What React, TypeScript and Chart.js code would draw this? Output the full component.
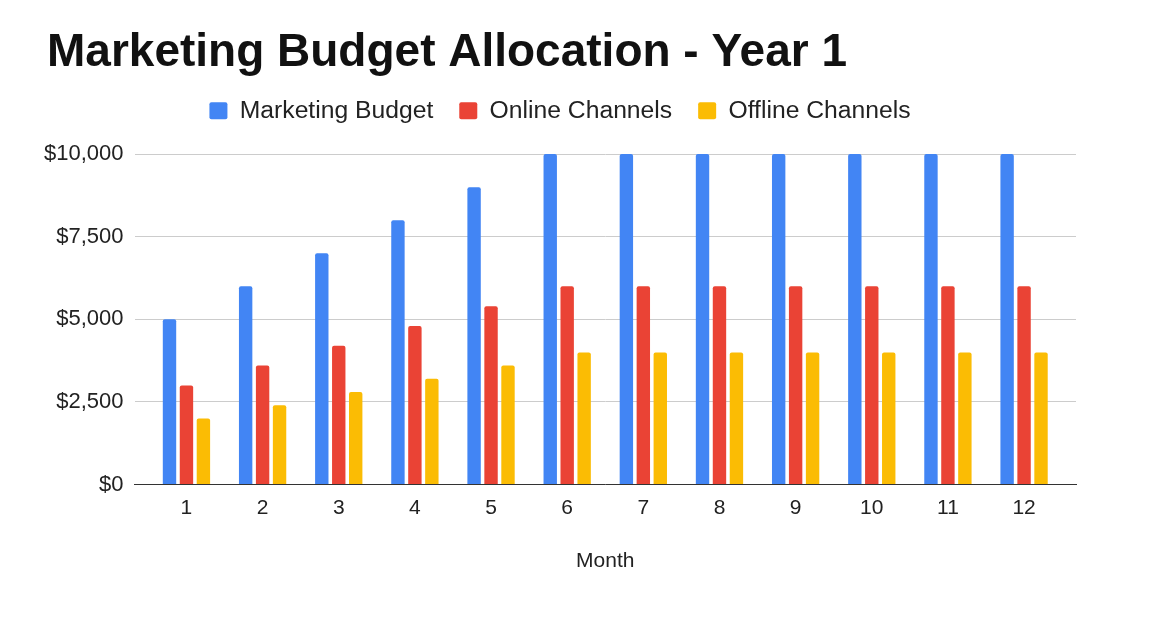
import React, { useEffect, useRef } from "react";
import { Chart, registerables } from "chart.js";

Chart.register(...registerables);

const chartTitle = "Marketing Budget Allocation - Year 1";
const xAxisTitle = "Month";
const months = [1, 2, 3, 4, 5, 6, 7, 8, 9, 10, 11, 12];
const seriesNames = ["Marketing Budget", "Online Channels", "Offline Channels"];
const marketingBudget = [5000, 6000, 7000, 8000, 9000, 10000, 10000, 10000, 10000, 10000, 10000, 10000];
const onlineChannels = [3000, 3600, 4200, 4800, 5400, 6000, 6000, 6000, 6000, 6000, 6000, 6000];
const offlineChannels = [2000, 2400, 2800, 3200, 3600, 4000, 4000, 4000, 4000, 4000, 4000, 4000];
const yTicks = [0, 2500, 5000, 7500, 10000];
const colors = ["#4285F4", "#EA4335", "#FBBC04"];

const FONT = "'Liberation Sans', Arial, Helvetica, sans-serif";
const Y_TICK_PADDING = 11;

const layoutTweaks = {
  id: "layoutTweaks",
  beforeInit(chart: any) {
    const legend = chart.legend;
    if (!legend) return;
    const orig = legend.fit;
    legend.fit = function () {
      orig.call(this);
      this.height += 21;
    };
  },
  afterLayout(chart: any) {
    const t = chart.titleBlock;
    if (t) {
      t.left += 3;
      t.right += 3;
    }
  },
};

export default function App() {
  const canvasRef = useRef<HTMLCanvasElement | null>(null);

  useEffect(() => {
    document.body.style.margin = "0";
    const canvas = canvasRef.current;
    if (!canvas) return;
    const seriesValues = [marketingBudget, onlineChannels, offlineChannels];
    const chart = new Chart(canvas, {
      type: "bar",
      data: {
        datasets: seriesNames.map((name, s) => ({
          label: name,
          data: months.map((m, i) => ({ x: m, y: seriesValues[s][i] })),
          backgroundColor: colors[s],
          borderRadius: 2,
          categoryPercentage: 0.668,
          barPercentage: 0.79,
        })),
      },
      options: {
        responsive: false,
        animation: false,
        layout: { padding: { left: 44, right: 89, top: 0, bottom: 61 } },
        plugins: {
          title: {
            display: true,
            text: chartTitle,
            align: "start",
            color: "#111111",
            font: { family: FONT, size: 46, weight: "bold", lineHeight: 0.8 },
            padding: { top: 34.9, bottom: 0.7 },
          },
          legend: {
            display: true,
            position: "top",
            align: "center",
            labels: {
              color: "#222222",
              font: { family: FONT, size: 24.7 },
              boxWidth: 18,
              boxHeight: 17,
              padding: 26,
              useBorderRadius: true,
              borderRadius: 2,
            },
          },
          tooltip: { enabled: false },
        },
        scales: {
          x: {
            type: "linear",
            offset: false,
            min: 0.318,
            max: 12.682,
            grid: { display: false, drawTicks: false },
            border: { display: true, color: "#333333", width: 1 },
            afterBuildTicks: (axis: any) => {
              axis.ticks = months.map((v) => ({ value: v }));
            },
            ticks: {
              color: "#222222",
              font: { family: FONT, size: 21 },
              padding: 11,
              autoSkip: false,
              maxRotation: 0,
              callback: (v: any) => String(v),
            },
            title: {
              display: true,
              text: xAxisTitle,
              color: "#222222",
              font: { family: FONT, size: 21 },
              padding: { top: 17, bottom: 0 },
            },
          },
          y: {
            min: 0,
            max: 10000,
            grid: { color: "#cccccc", drawTicks: false, lineWidth: 1 },
            border: { display: false },
            afterBuildTicks: (axis: any) => {
              axis.ticks = yTicks.map((v) => ({ value: v }));
            },
            afterFit: (axis: any) => {
              axis.width -= Y_TICK_PADDING;
            },
            ticks: {
              color: "#222222",
              font: { family: FONT, size: 22 },
              padding: Y_TICK_PADDING,
              callback: (v: any) => "$" + Number(v).toLocaleString("en-US"),
            },
          },
        },
      },
      plugins: [layoutTweaks],
    } as any);
    return () => chart.destroy();
  }, []);

  return (
    <div style={{ width: 1165, height: 635, background: "#ffffff" }}>
      <canvas ref={canvasRef} width={1165} height={635} style={{ display: "block" }} />
    </div>
  );
}
